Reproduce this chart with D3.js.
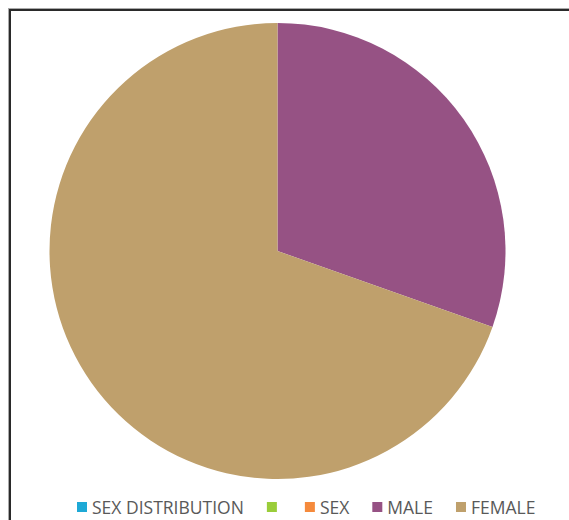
<!DOCTYPE html>
<html>
<head>
<meta charset="utf-8">
<script src="https://cdn.jsdelivr.net/npm/d3@7"></script>
<style>
  html, body { margin: 0; padding: 0; background: #fff; }
  svg { display: block; }
</style>
</head>
<body>
<svg id="chart" width="569" height="520"></svg>
<script>
// Series shown in the legend; only MALE and FEMALE carry values
const legendLabels = ["SEX DISTRIBUTION", "", "SEX", "MALE", "FEMALE"];
const legendColors = ["#1EA9D6", "#9ACD3A", "#F58A3C", "#965284", "#BFA06C"];

// Pie slices (percent of respondents)
const sliceLabels = ["MALE", "FEMALE"];
const sliceValues = [30.4, 69.6];

const svg = d3.select("#chart");

// Chart frame (extends past the right and bottom edges)
svg.append("rect")
  .attr("x", 8.5).attr("y", 8.5)
  .attr("width", 700).attr("height", 700)
  .attr("fill", "none")
  .attr("stroke", "#aaa")
  .attr("stroke-width", 1);
svg.append("rect")
  .attr("x", 10).attr("y", 10)
  .attr("width", 700).attr("height", 700)
  .attr("fill", "none")
  .attr("stroke", "#2a2a2a")
  .attr("stroke-width", 2);

const color = d3.scaleOrdinal().domain(legendLabels).range(legendColors);

const cx = 277.5, cy = 251, radius = 228;

const pie = d3.pie().sort(null).value(d => d.value);
const arc = d3.arc().innerRadius(0).outerRadius(radius);

const data = sliceLabels.map((l, i) => ({ label: l, value: sliceValues[i] }));

svg.append("g")
  .attr("transform", `translate(${cx},${cy})`)
  .selectAll("path")
  .data(pie(data))
  .join("path")
  .attr("d", arc)
  .attr("fill", d => color(d.data.label));

// Legend laid out left to right
const legend = svg.append("g").attr("class", "legend");
let x = 77;
const sq = 10, legendY = 502;
legendLabels.forEach((label, i) => {
  const g = legend.append("g");
  g.append("rect")
    .attr("x", x).attr("y", legendY)
    .attr("width", sq).attr("height", sq)
    .attr("fill", legendColors[i]);
  const t = g.append("text")
    .attr("x", x + sq + 5)
    .attr("y", legendY + sq + 2)
    .attr("font-family", "'Open Sans', sans-serif")
    .attr("font-size", 17.5)
    .attr("fill", "#595959")
    .text(label);
  const w = label ? t.node().getComputedTextLength() : 0;
  x = x + sq + 5 + w + 23;
});
</script>
</body>
</html>
